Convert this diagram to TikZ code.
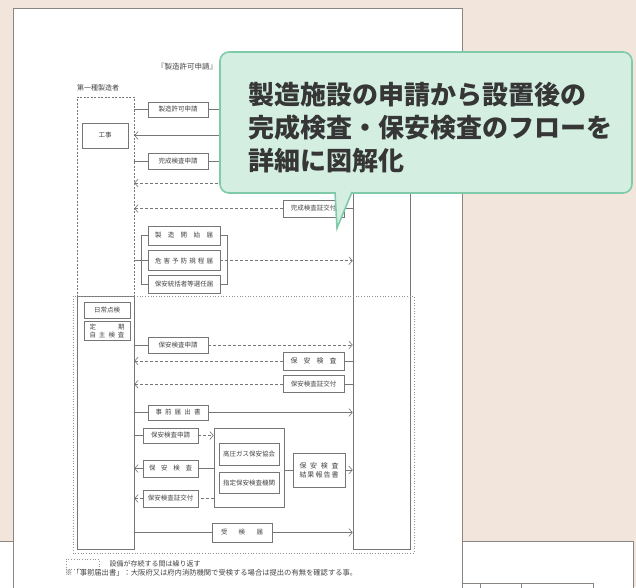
\documentclass[tikz,border=0pt]{standalone}
\usepackage{fontspec}
\newfontfamily\cjk{Noto Sans CJK JP}
\usetikzlibrary{arrows.meta, positioning}
\definecolor{paperColor}{HTML}{F2E6DC}
\definecolor{sheetLine}{HTML}{8A8580}
\definecolor{lineGray}{HTML}{767676}
\definecolor{inkGray}{HTML}{454545}
\definecolor{calloutFill}{HTML}{D4EFE2}
\definecolor{calloutLine}{HTML}{7FCAA9}
\definecolor{calloutInk}{HTML}{363636}
\newcommand{\spreadText}[2]{\makebox[#1][s]{#2}}
\tikzset{
    docNode/.style = {rectangle, draw=lineGray, line width=0.7pt, fill=white, inner sep=0pt, text=inkGray, font=\cjk\fontsize{6.5}{8}\selectfont, minimum width=60pt, minimum height=16pt, align=center},
    columnNode/.style = {rectangle, draw=lineGray, line width=0.6pt, inner sep=0pt},
    plainText/.style = {inner sep=0pt, text=inkGray, font=\cjk\fontsize{7}{8}\selectfont},
    flowPath/.style = {draw=lineGray, line width=0.6pt},
    flowArrow/.style = {flowPath, -{Straight Barb[length=3.5pt, width=8pt]}},
    backArrow/.style = {flowArrow, dash pattern=on 3pt off 2pt},
    loopPath/.style = {draw=lineGray!80, line width=0.7pt, dotted},
    calloutPath/.style = {fill=calloutFill, draw=calloutLine, line width=1.6pt}
}
\begin{document}
\begin{tikzpicture}[x=1pt, y=-1pt]
            \useasboundingbox (0,0) rectangle (636,587);
            \fill[paperColor] (0,0) rectangle (636,587);
            \filldraw[fill=white, draw=sheetLine, line width=0.8pt] (-5,541) rectangle (633,600);
            \path[flowPath, draw=sheetLine] (462,583) -- (593,583) -- (593,600) (480,583) -- (480,600) (521,583) -- (521,600);
            \filldraw[fill=white, draw=sheetLine, line width=0.8pt] (13,8) rectangle (462,600);
            \node(title)[plainText, anchor=west, font=\cjk\fontsize{7.5}{9}\selectfont] at (157,67){『製造許可申請』};
            \node(makerLabel)[plainText, anchor=west] at (77,88){第一種製造者};
            \node(maker)[columnNode, dash pattern=on 2pt off 1.5pt, minimum width=57pt, minimum height=199pt] at (105.5,196.5){};
            \node(makerLoop)[columnNode, minimum width=57pt, minimum height=253pt] at (105.5,422.5){};
            \node(office)[columnNode, minimum width=57pt, minimum height=452pt] at (381.5,323){};
            \draw[loopPath] (73,296) rectangle (414,553);
            \node(kyoka)[docNode, minimum height=15pt] at (178,109.5){製造許可申請};
            \node(koji)[docNode, minimum width=46pt, minimum height=25pt] at (105,135.5){工事};
            \node(kansei)[docNode] at (178,161){完成検査申請};
            \node(kanseiSho)[docNode, minimum width=61pt, minimum height=17pt] at (313.5,208.5){完成検査証交付};
            \node(kaishi)[docNode, minimum width=72pt, minimum height=19pt] at (184,235.5){\spreadText{58pt}{製\hfill 造\hfill 開\hfill 始\hfill 届}};
            \node(kigai)[docNode, minimum width=72pt, minimum height=20pt, below=5pt of kaishi]{\spreadText{58pt}{危\hfill 害\hfill 予\hfill 防\hfill 規\hfill 程\hfill 届}};
            \node(tokatsu)[docNode, minimum width=72pt, minimum height=18pt, below=4pt of kigai]{保安統括者等選任届};
            \node(nichijo)[docNode, minimum width=46pt] at (107,310){日常点検};
            \node(teiki)[docNode, minimum width=46pt, minimum height=19pt, below=3pt of nichijo, font=\cjk\fontsize{6.5}{7.5}\selectfont]{\spreadText{35pt}{定\hfill 期}\\\spreadText{35pt}{自\hfill 主\hfill 検\hfill 査}};
            \node(hoanShinsei1)[docNode] at (178,345){保安検査申請};
            \node(hoanKensa1)[docNode, minimum width=61pt, minimum height=18pt, font=\cjk\fontsize{7}{8}\selectfont] at (313.5,361){\spreadText{46pt}{保\hfill 安\hfill 検\hfill 査}};
            \node(hoanSho1)[docNode, minimum width=61pt, minimum height=17pt, below=5pt of hoanKensa1]{保安検査証交付};
            \node(jizen)[docNode, minimum height=15pt] at (178,412.5){\spreadText{45pt}{事\hfill 前\hfill 届\hfill 出\hfill 書}};
            \node(hoanShinsei2)[docNode, minimum width=55pt, minimum height=15pt] at (170.5,435.5){保安検査申請};
            \node(kikan)[docNode, minimum width=70pt, minimum height=79pt] at (249,467.5){};
            \node(kyokai)[docNode, minimum height=22pt] at (249,454){高圧ガス保安協会};
            \node(shitei)[docNode, minimum height=21pt, below=7pt of kyokai]{指定保安検査機関};
            \node(hoanKensa2)[docNode, minimum width=55pt, minimum height=17pt] at (170.5,468.5){\spreadText{43pt}{保\hfill 安\hfill 検\hfill 査}};
            \node(hoanSho2)[docNode, minimum width=55pt, minimum height=17pt] at (170.5,498.5){保安検査証交付};
            \node(hokoku)[docNode, minimum width=52pt, minimum height=34pt, font=\cjk\fontsize{7}{9}\selectfont] at (319,470){\spreadText{39pt}{保\hfill 安\hfill 検\hfill 査}\\\spreadText{39pt}{結\hfill 果\hfill 報\hfill 告\hfill 書}};
            \node(juken)[docNode, minimum height=19pt] at (242,532.5){\spreadText{42pt}{受\hfill 検\hfill 届}};
            \path[flowPath] (maker.east |- kyoka) to (kyoka);
            \path[flowArrow] (kyoka) to (office.west |- kyoka);
            \path[flowArrow] (office.west |- koji) to (maker.east |- koji);
            \path[flowPath] (maker.east |- kansei) to (kansei);
            \path[flowArrow] (kansei) to (office.west |- kansei);
            \coordinate(kanseiDone) at (353,183);
            \path[backArrow] (kanseiDone) to (maker.east |- kanseiDone);
            \path[flowPath] (office.west |- kanseiSho) to (kanseiSho);
            \path[backArrow] (kanseiSho) to (maker.east |- kanseiSho);
            \path[flowPath] (kaishi.west) -- ++(-6pt,0pt) |- (tokatsu.west);
            \path[flowPath] (kaishi.east) -- ++(7pt,0pt) |- (tokatsu.east);
            \path[flowPath] (maker.east |- kigai) to (kigai);
            \path[backArrow] (kigai) to (office.west |- kigai);
            \path[flowPath] (makerLoop.east |- hoanShinsei1) to (hoanShinsei1);
            \path[backArrow] (hoanShinsei1) to (office.west |- hoanShinsei1);
            \path[flowPath] (office.west |- hoanKensa1) to (hoanKensa1);
            \path[backArrow] (hoanKensa1) to (makerLoop.east |- hoanKensa1);
            \path[flowPath] (office.west |- hoanSho1) to (hoanSho1);
            \path[backArrow] (hoanSho1) to (makerLoop.east |- hoanSho1);
            \path[flowPath] (makerLoop.east |- jizen) to (jizen);
            \path[flowArrow] (jizen) to (office.west |- jizen);
            \path[flowPath] (makerLoop.east |- hoanShinsei2) to (hoanShinsei2);
            \path[backArrow] (hoanShinsei2) to (kikan.west |- hoanShinsei2);
            \path[flowPath] (kikan.west |- hoanKensa2) to (hoanKensa2);
            \path[flowArrow] (hoanKensa2) to (makerLoop.east |- hoanKensa2);
            \path[flowPath, dash pattern=on 3pt off 2pt] (kikan.west |- hoanSho2) to (hoanSho2);
            \path[backArrow] (hoanSho2) to (makerLoop.east |- hoanSho2);
            \path[flowPath] (kikan.east |- hokoku) to (hokoku);
            \path[flowArrow] (hokoku) to (office.west |- hokoku);
            \path[flowPath] (makerLoop.east |- juken) to (juken);
            \path[flowArrow] (juken) to (office.west |- juken);
            \node(legendBox)[rectangle, draw=lineGray!80, dotted, line width=0.7pt, minimum width=33pt, minimum height=10pt, inner sep=0pt] at (82.5,564){};
            \node(legendText)[plainText, right=10pt of legendBox]{設備が存続する間は繰り返す};
            \node(note)[plainText, anchor=west, font=\cjk\fontsize{7.3}{8}\selectfont] at (65,573){※「事前届出書」：大阪府又は府内消防機関で受検する場合は提出の有無を確認する事。};
            \path[calloutPath, rounded corners=9pt] (220,52) rectangle (632,193);
            \path[calloutPath] (335,192) -- (337,228) -- (352,192);
            \fill[calloutFill] (336.6,190) rectangle (349.8,195);
            \node(callout)[anchor=north west, inner sep=0pt, text=calloutInk, align=left, font=\cjk\bfseries\fontsize{26}{33}\selectfont] at (248,82){製造施設の申請から設置後の\\完成検査・保安検査のフローを\\詳細に図解化};
        \end{tikzpicture}
\end{document}
